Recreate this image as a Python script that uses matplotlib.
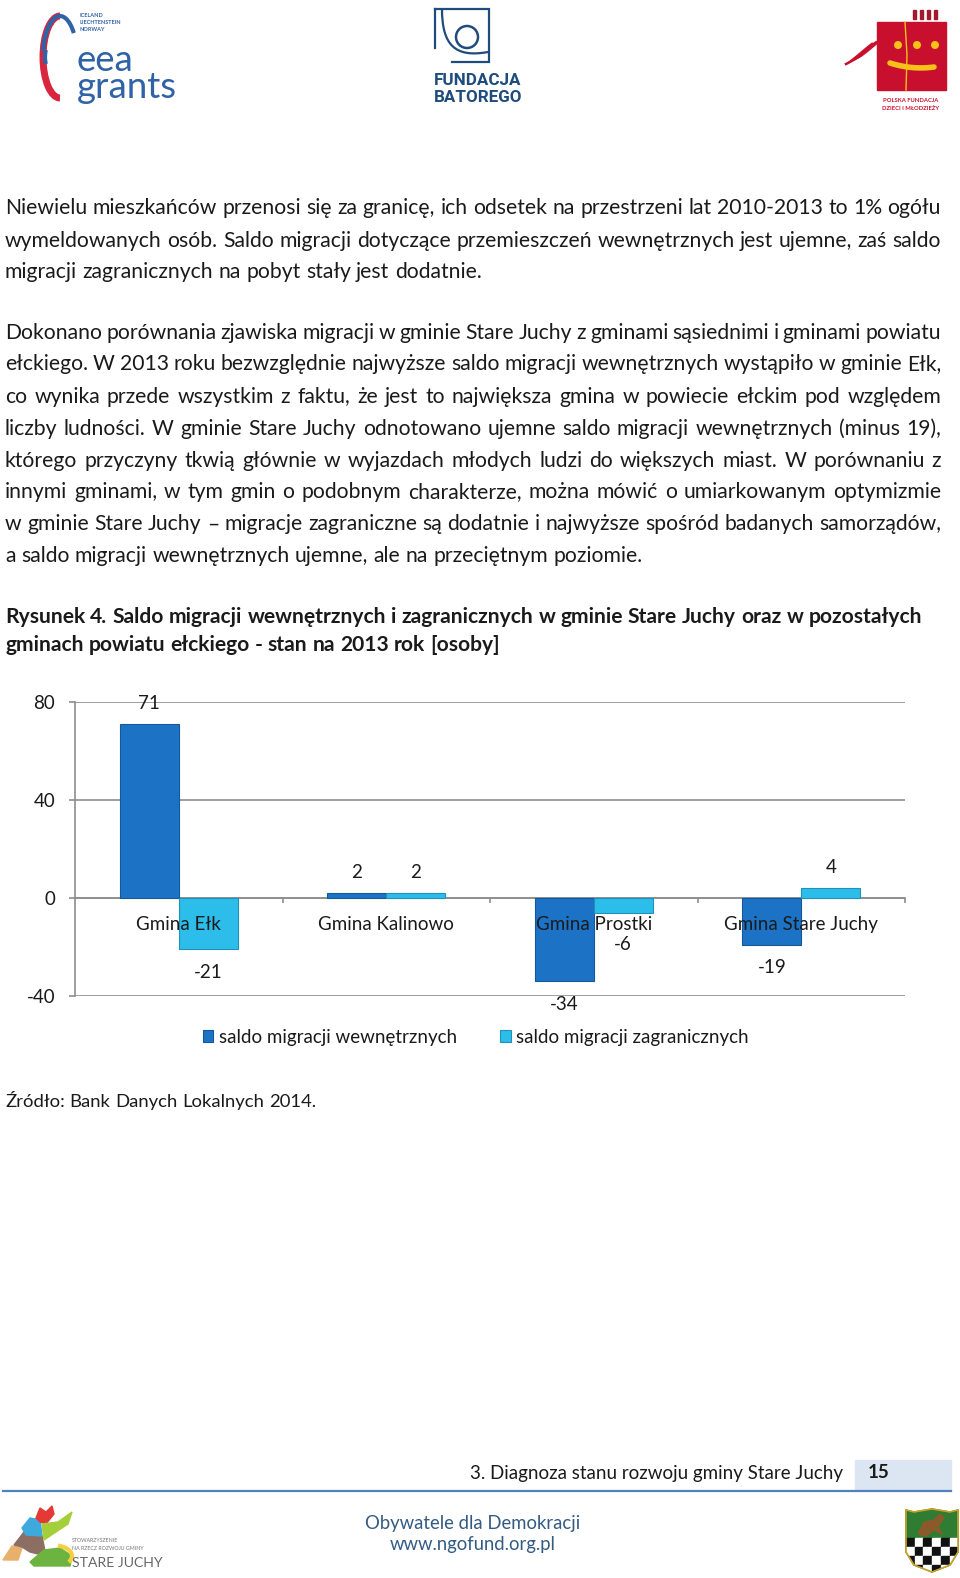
import matplotlib
matplotlib.use('Agg')
import matplotlib.pyplot as plt
import numpy as np
from matplotlib.patches import Rectangle, Circle, Polygon, Arc, PathPatch
from matplotlib.path import Path

# ---------------- data ----------------
categories = ['Gmina Ełk', 'Gmina Kalinowo', 'Gmina Prostki', 'Gmina Stare Juchy']
internal = [71, 2, -34, -19]
foreign = [-21, 2, -6, 4]
series_names = ['saldo migracji wewnętrznych', 'saldo migracji zagranicznych']
yticks = [-40, 0, 40, 80]

para1 = [
    "Niewielu mieszkańców przenosi się za granicę, ich odsetek na przestrzeni lat 2010-2013 to 1% ogółu",
    "wymeldowanych osób. Saldo migracji dotyczące przemieszczeń wewnętrznych jest ujemne, zaś saldo",
    "migracji zagranicznych na pobyt stały jest dodatnie.",
]
para2 = [
    "Dokonano porównania zjawiska migracji w gminie Stare Juchy z gminami sąsiednimi i gminami powiatu",
    "ełckiego. W 2013 roku bezwzględnie najwyższe saldo migracji wewnętrznych wystąpiło w gminie Ełk,",
    "co wynika przede wszystkim z faktu, że jest to największa gmina w powiecie ełckim pod względem",
    "liczby ludności. W gminie Stare Juchy odnotowano ujemne saldo migracji wewnętrznych (minus 19),",
    "którego przyczyny tkwią głównie w wyjazdach młodych ludzi do większych miast. W porównaniu z",
    "innymi gminami, w tym gmin o podobnym charakterze, można mówić o umiarkowanym optymizmie",
    "w gminie Stare Juchy – migracje zagraniczne są dodatnie i najwyższe spośród badanych samorządów,",
    "a saldo migracji wewnętrznych ujemne, ale na przeciętnym poziomie.",
]
title_lines = [
    "Rysunek 4. Saldo migracji wewnętrznych i zagranicznych w gminie Stare Juchy oraz w pozostałych",
    "gminach powiatu ełckiego - stan na 2013 rok [osoby]",
]
source_text = "Źródło: Bank Danych Lokalnych 2014."
footer_text = "3. Diagnoza stanu rozwoju gminy Stare Juchy"
page_number = "15"
footer_center = ["Obywatele dla Demokracji", "www.ngofund.org.pl"]

# ---------------- styling ----------------
FAM = ['Lato', 'DejaVu Sans']
TXT = '#1A1A1A'
BLUE = '#1C73C6'
BLUE_E = '#14579A'
CYAN = '#2DBDEB'
CYAN_E = '#1E92B9'
GRID = '#8E8E8E'

W, H = 960, 1578
fig = plt.figure(figsize=(W / 100, H / 100), dpi=100)
fig.patch.set_facecolor('white')
ax0 = fig.add_axes([0, 0, 1, 1])
ax0.set_xlim(0, W)
ax0.set_ylim(H, 0)
ax0.axis('off')
R = fig.canvas.get_renderer()


def text_width(s, fs, weight='normal', family=FAM):
    t = ax0.text(0, 0, s, fontsize=fs, fontweight=weight, family=family)
    w = t.get_window_extent(renderer=R).width
    t.remove()
    return w


def fit_fs(s, target, weight='normal', family=FAM):
    return 10.0 * target / text_width(s, 10, weight, family)


def put_line(s, y, fs, weight='normal', x0=5, x1=None, color=TXT):
    words = s.split(' ')
    arts = [ax0.text(0, y, wd, fontsize=fs, fontweight=weight, family=FAM,
                     color=color, va='center', ha='left') for wd in words]
    ws = [a.get_window_extent(renderer=R).width for a in arts]
    if x1 is None or len(words) < 2:
        gap = text_width('a a', fs, weight) - text_width('aa', fs, weight)
    else:
        gap = (x1 - x0 - sum(ws)) / (len(ws) - 1)
    x = x0
    for a, wv in zip(arts, ws):
        a.set_x(x)
        x += wv + gap


fs_body = 0.5 * (fit_fs(para1[-1], 473) + fit_fs(para2[-1], 638))
fs_title = fit_fs(title_lines[1], 494, 'bold')
fs_chart = fit_fs(categories[3], 153)
fs_foot = fit_fs(footer_text, 373)
fs_src = fit_fs(source_text, 311)

# ---------------- body text ----------------
y1 = [208.3, 240.5, 271.7]
for i, (s, y) in enumerate(zip(para1, y1)):
    put_line(s, y, fs_body, x1=None if i == len(para1) - 1 else 941)
y2 = [333.1, 364.3, 396.5, 428.7, 460.9, 492.1, 524.3, 555.5]
for i, (s, y) in enumerate(zip(para2, y2)):
    put_line(s, y, fs_body, x1=None if i == len(para2) - 1 else 941)
put_line(title_lines[0], 616.9, fs_title, 'bold', x1=922)
put_line(title_lines[1], 645.0, fs_title, 'bold')
put_line(source_text, 1101.9, fs_src)

# ---------------- chart ----------------
ax = fig.add_axes([75 / W, 1 - 996 / H, 830 / W, 294 / H])
ax.patch.set_alpha(0)
x = np.arange(len(categories))
bw = 0.284
b1 = ax.bar(x - bw / 2, internal, bw, color=BLUE, edgecolor=BLUE_E, lw=0.8,
            zorder=3, label=series_names[0])
b2 = ax.bar(x + bw / 2, foreign, bw, color=CYAN, edgecolor=CYAN_E, lw=0.8,
            zorder=3, label=series_names[1])
ax.set_xlim(-0.5, len(categories) - 0.5)
ax.set_ylim(yticks[0], yticks[-1])
ax.set_yticks(yticks)
ax.set_yticklabels([str(v) for v in yticks], fontsize=fs_chart, family=FAM, color=TXT)
ax.yaxis.grid(True, color=GRID, lw=1.2)
ax.set_axisbelow(True)
for s in ('top', 'right'):
    ax.spines[s].set_visible(False)
ax.spines['left'].set_color(GRID)
ax.spines['left'].set_linewidth(1.2)
ax.spines['bottom'].set_position(('data', 0))
ax.spines['bottom'].set_color(GRID)
ax.spines['bottom'].set_linewidth(1.2)
ax.set_xticks(np.arange(len(categories)) + 0.5)
ax.set_xticklabels([])
ax.tick_params(axis='x', length=3.6, color=GRID, width=1.2, direction='out')
ax.tick_params(axis='y', length=4.3, color=GRID, width=1.2, pad=10)

# value labels
y0px = ax.transData.transform((0, 0))[1]
for bars, vals in ((b1, internal), (b2, foreign)):
    for rect, v in zip(bars, vals):
        xc = rect.get_x() + rect.get_width() / 2
        if v >= 0:
            off = 21
        else:
            dist = y0px - ax.transData.transform((0, v))[1]
            off = -max(23, 47 - dist)
        ax.annotate(str(v), xy=(xc, v), xytext=(0, off), textcoords='offset pixels',
                    ha='center', va='center', fontsize=fs_chart, family=FAM,
                    color=TXT, zorder=6, annotation_clip=False)

# category labels
for i, c in enumerate(categories):
    ax.annotate(c, xy=(i, 0), xytext=(0, -27), textcoords='offset pixels',
                ha='center', va='center', fontsize=fs_chart, family=FAM,
                color=TXT, zorder=6, annotation_clip=False)

leg = ax.legend(handles=[b1, b2], loc='center', bbox_to_anchor=(476 / W, 1 - 1037 / H),
                bbox_transform=fig.transFigure, ncol=2, frameon=False,
                prop={'family': FAM, 'size': fs_chart}, handlelength=0.55,
                handleheight=0.55, handletextpad=0.3, columnspacing=2.3, borderpad=0)
for t in leg.get_texts():
    t.set_color(TXT)

# ---------------- header logos ----------------
EEA = '#2F62A6'
ax0.add_patch(Arc((60, 57), 34, 82, theta1=90, theta2=270, color='#D7263D', lw=5))
ax0.add_patch(Arc((60, 57), 34, 82, theta1=200, theta2=300, color=EEA, lw=3))
ax0.add_patch(Arc((58, 57), 26, 40, theta1=150, theta2=210, color=EEA, lw=3))
for s, y in (("ICELAND", 15), ("LIECHTENSTEIN", 22), ("NORWAY", 29)):
    ax0.text(80, y, s, fontsize=4.0, color=EEA, family=FAM, va='center', ha='left', fontweight='bold')
ax0.text(77, 104, "eea\ngrants", fontsize=fit_fs("grants", 100), color=EEA, family=FAM,
         va='bottom', ha='left', linespacing=0.78)

BAT = '#1F4C7C'
ax0.plot([435, 489, 489, 452], [9, 9, 62, 62], color=BAT, lw=1.6, solid_joinstyle='miter')
ax0.plot([435, 435], [9, 48], color=BAT, lw=1.6)
verts = [(442, 9), (442, 45), (455, 58), (488, 52)]
ax0.add_patch(PathPatch(Path(verts, [Path.MOVETO, Path.CURVE4, Path.CURVE4, Path.CURVE4]),
                        fc='none', ec=BAT, lw=1.6))
ax0.add_patch(Circle((467, 37), 11, fc='none', ec=BAT, lw=1.8))
fsb = fit_fs("FUNDACJA", 87, 'bold', ['Roboto', 'DejaVu Sans'])
ax0.text(434, 80, "FUNDACJA", fontsize=fsb, fontweight='bold', color=BAT,
         family=['Roboto', 'DejaVu Sans'], va='center')
ax0.text(434, 97, "BATOREGO", fontsize=fsb, fontweight='bold', color=BAT,
         family=['Roboto', 'DejaVu Sans'], va='center')

RED = '#C8102E'
YEL = '#F6C21A'
ax0.add_patch(Rectangle((877, 22), 69, 68, color=RED))
ax0.plot([905, 907, 906], [22, 55, 90], color=YEL, lw=1)
for cx in (898, 917, 935):
    ax0.add_patch(Circle((cx, 45), 3.3, color=YEL))
tt = np.linspace(0, 1, 30)
ax0.plot(890 + 44 * tt, 63 + 14 * tt - 10 * tt ** 2, color=YEL, lw=4, solid_capstyle='round')
for bx in (913, 920, 927, 934):
    ax0.add_patch(Rectangle((bx, 10), 3, 9, color='#A3192E'))
for k in range(4):
    ax0.plot(846 + 4 * k + 26 * tt ** 0.8, 64 - 2 * k - 24 * tt + 4 * tt ** 2,
             color=RED, lw=1.8 - 0.3 * k)
ax0.text(911, 100, "POLSKA FUNDACJA", fontsize=4.2, fontweight='bold', color=RED,
         family=FAM, ha='center', va='center')
ax0.text(911, 108, "DZIECI I MŁODZIEŻY", fontsize=4.2, fontweight='bold', color=RED,
         family=FAM, ha='center', va='center')

# ---------------- footer ----------------
ax0.add_patch(Rectangle((855, 1460), 96, 30, color='#DCE6F2', zorder=1))
ax0.text(843, 1473, footer_text, fontsize=fs_foot, family=FAM, color=TXT, ha='right', va='center')
ax0.text(868, 1473, page_number, fontsize=fs_foot, fontweight='bold', family=FAM, color=TXT,
         ha='left', va='center', zorder=2)
ax0.plot([3, 951], [1491, 1491], color='#4F81BD', lw=1.6)
FC = '#335B84'
fsc = fit_fs(footer_center[0], 216)
ax0.text(473, 1523.5, footer_center[0], fontsize=fsc, family=FAM, color=FC, ha='center', va='center')
ax0.text(473, 1544.7, footer_center[1], fontsize=fsc, family=FAM, color=FC, ha='center', va='center')

# deer logo
ax0.add_patch(Polygon([(3, 1560), (12, 1546), (22, 1548), (18, 1560)], color='#E8B06A'))
ax0.add_patch(Polygon([(14, 1545), (24, 1532), (42, 1536), (46, 1556), (30, 1552), (22, 1547)], color='#8D6E63'))
ax0.add_patch(Polygon([(22, 1528), (30, 1518), (40, 1520), (42, 1536), (26, 1535)], color='#3DA9DC'))
ax0.add_patch(Polygon([(36, 1518), (40, 1508), (46, 1512), (52, 1506), (54, 1514), (46, 1524), (40, 1522)], color='#E53935'))
ax0.add_patch(Polygon([(42, 1524), (58, 1522), (72, 1512), (68, 1524), (56, 1532), (44, 1540)], color='#A5CF3A'))
ax0.add_patch(Polygon([(30, 1562), (44, 1550), (60, 1548), (72, 1556), (70, 1566), (34, 1566)], color='#6DB33F'))
ax0.add_patch(Arc((52, 1556), 40, 22, theta1=300, theta2=20, color='#F4D03F', lw=3))
ax0.text(72, 1540, "STOWARZYSZENIE", fontsize=3.8, color='#777777', family=FAM, va='center')
ax0.text(72, 1549, "NA RZECZ ROZWOJU GMINY", fontsize=3.8, color='#777777', family=FAM, va='center')
ax0.text(72, 1563, "STARE JUCHY", fontsize=fit_fs("STARE JUCHY", 90), color='#666666',
         family=FAM, va='center')

# coat of arms
shield = [(906, 1510), (914, 1512), (932, 1509), (950, 1512), (958, 1510), (958, 1552),
          (950, 1565), (932, 1572), (914, 1565), (906, 1552)]
sp = Polygon(shield, fc='#2E7D32', ec='#1B5E20', lw=1, zorder=2)
ax0.add_patch(sp)
for r in range(4):
    for c in range(6):
        col = '#111111' if (r + c) % 2 == 0 else 'white'
        sq = Rectangle((906 + c * 8.7, 1538 + r * 9), 8.7, 9, color=col, zorder=3)
        ax0.add_patch(sq)
        sq.set_clip_path(sp)
ax0.add_patch(Polygon([(918, 1534), (924, 1522), (934, 1520), (940, 1514), (944, 1518), (938, 1526),
                       (942, 1534), (934, 1530), (926, 1536)], color='#8B5A2B', zorder=4))
ax0.add_patch(Polygon(shield, fc='none', ec='#C9A227', lw=1.2, zorder=5))

fig.savefig('out.png', dpi=100, facecolor='white')
